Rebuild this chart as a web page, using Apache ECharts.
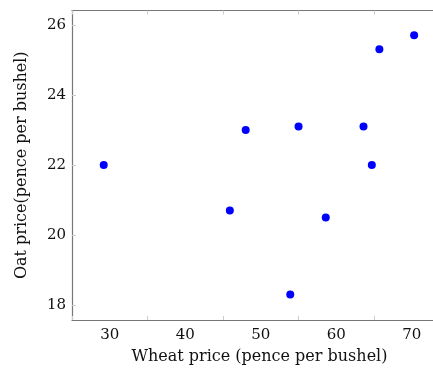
<!DOCTYPE html>
<html>
<head>
<meta charset="utf-8">
<script src="https://cdn.jsdelivr.net/npm/echarts@6/dist/echarts.min.js"></script>
<style>
  html, body { margin: 0; padding: 0; background: #fff; }
  #chart { width: 433px; height: 370px; }
</style>
</head>
<body>
<div id="chart"></div>
<script>
// wheat vs oat prices, pence per bushel
var wheatPrice = [29.2, 48.0, 55.0, 63.6, 64.7, 65.7, 70.3, 45.9, 58.6, 53.9];
var oatPrice   = [22.0, 23.0, 23.1, 23.1, 22.0, 25.3, 25.7, 20.7, 20.5, 18.3];
var xTicks = [30, 40, 50, 60, 70];
var yTicks = [18, 20, 22, 24, 26];

var points = [];
for (var i = 0; i < wheatPrice.length; i++) {
    points.push([wheatPrice[i], oatPrice[i]]);
}

var font = 'DejaVu Serif';
var frameLine = { show: true, lineStyle: { color: '#777', width: 1.2 } };
var tick = { show: true, inside: true, length: 4, lineStyle: { color: '#ccc' } };

var option = {
    animation: false,
    grid: { left: 72, right: 0, top: 10.5, bottom: 50 },
    xAxis: [{
        type: 'value',
        min: 25, max: 72.8,
        interval: 10,
        name: 'Wheat price (pence per bushel)',
        nameLocation: 'middle',
        nameGap: 29,
        nameTextStyle: { fontFamily: font, fontSize: 16, color: '#111', padding: [0, 0, 0, 14] },
        axisLine: frameLine,
        axisTick: tick,
        splitLine: { show: false },
        axisLabel: {
            fontFamily: font, fontSize: 15, color: '#111', margin: 8,
            customValues: xTicks
        }
    }, {
        type: 'value',
        position: 'top',
        min: 25, max: 72.8,
        interval: 10,
        axisLine: frameLine,
        axisTick: tick,
        splitLine: { show: false },
        axisLabel: { show: false }
    }],
    yAxis: {
        type: 'value',
        min: 17.57, max: 26.41,
        name: 'Oat price(pence per bushel)',
        nameLocation: 'middle',
        nameGap: 42,
        nameTextStyle: { fontFamily: font, fontSize: 16, color: '#111' },
        axisLine: frameLine,
        axisTick: { show: true, inside: true, length: 4, lineStyle: { color: '#ccc' }, customValues: yTicks },
        splitLine: { show: false },
        axisLabel: {
            fontFamily: font, fontSize: 15, color: '#111', margin: 6,
            customValues: yTicks
        }
    },
    series: [{
        type: 'scatter',
        data: points,
        symbolSize: 8,
        itemStyle: { color: '#0000ff', opacity: 1 }
    }]
};

var chart = echarts.init(document.getElementById('chart'));
chart.setOption(option);
</script>
</body>
</html>
